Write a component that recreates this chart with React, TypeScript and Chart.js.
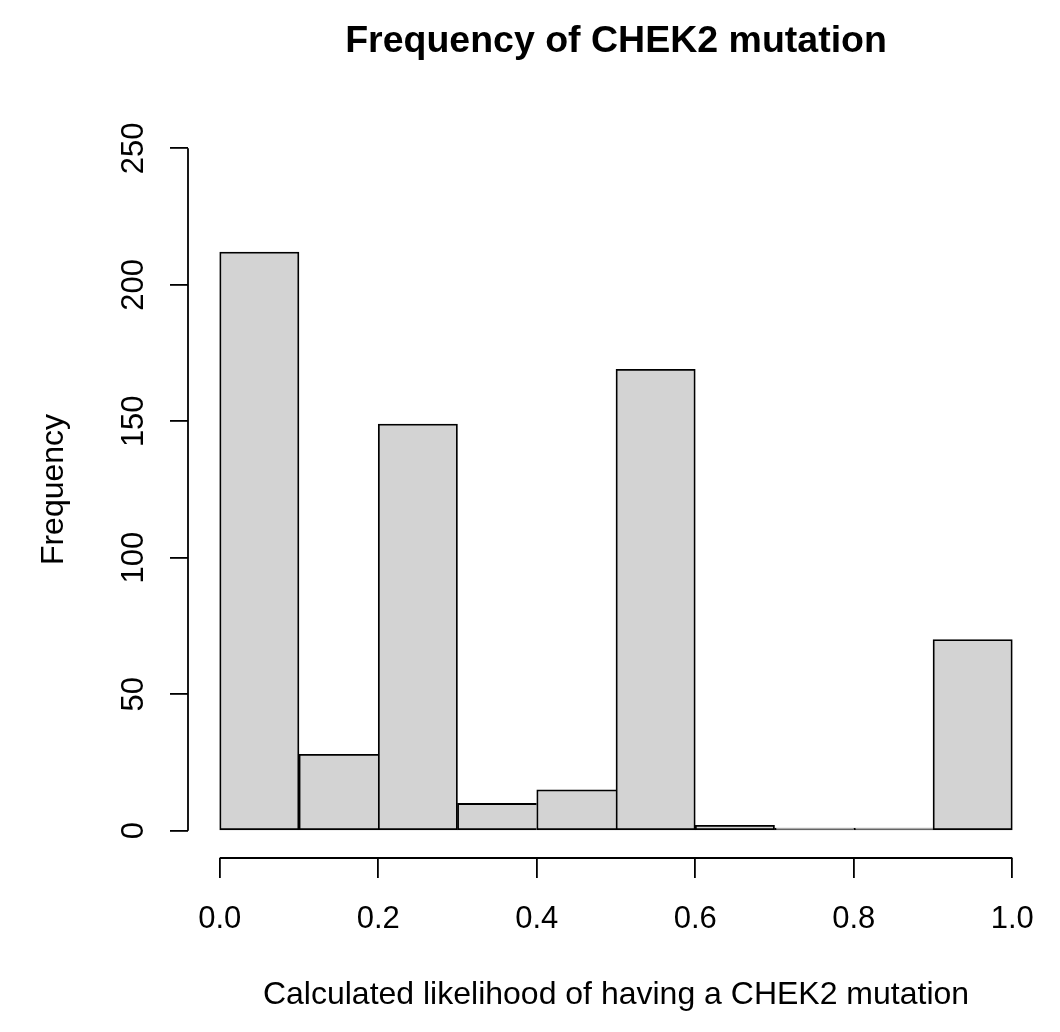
import React, { useEffect, useRef } from 'react';
import { Chart, registerables } from 'chart.js';

Chart.register(...registerables);

// ---- data ----
const binCenters = [0.05, 0.15, 0.25, 0.35, 0.45, 0.55, 0.65, 0.75, 0.85, 0.95];
const counts = [212, 28, 149, 10, 15, 169, 2, 1, 1, 70];
const xTickValues = [0, 0.2, 0.4, 0.6, 0.8, 1.0];
const yTickValues = [0, 50, 100, 150, 200, 250];
const titleText = 'Frequency of CHEK2 mutation';
const xTitle = 'Calculated likelihood of having a CHEK2 mutation';
const yTitle = 'Frequency';

const FONT = '"Liberation Sans", Arial, Helvetica, sans-serif';
const LW = 1.8;

const rAxesPlugin = {
  id: 'rAxes',
  afterDraw(chart: any) {
    const { ctx, chartArea, scales } = chart;
    const x = scales.x;
    const y = scales.y;
    ctx.save();
    ctx.strokeStyle = '#000';
    ctx.lineWidth = LW;
    ctx.beginPath();
    ctx.moveTo(x.getPixelForValue(xTickValues[0]), chartArea.bottom);
    ctx.lineTo(x.getPixelForValue(xTickValues[xTickValues.length - 1]), chartArea.bottom);
    ctx.moveTo(chartArea.left, y.getPixelForValue(yTickValues[0]));
    ctx.lineTo(chartArea.left, y.getPixelForValue(yTickValues[yTickValues.length - 1]));
    ctx.stroke();
    ctx.fillStyle = '#000';
    ctx.font = `31px ${FONT}`;
    ctx.textAlign = 'center';
    ctx.textBaseline = 'middle';
    y.ticks.forEach((t: any) => {
      const py = y.getPixelForValue(t.value);
      ctx.save();
      ctx.translate(chartArea.left - 54, py);
      ctx.rotate(-Math.PI / 2);
      ctx.fillText(String(t.value), 0, 0);
      ctx.restore();
    });
    ctx.restore();
  },
};

export default function App() {
  const ref = useRef<HTMLCanvasElement | null>(null);
  useEffect(() => {
    document.body.style.margin = '0';
    if (!ref.current) return;
    const last = counts.length - 1;
    const chart = new Chart(ref.current, {
      type: 'bar',
      data: {
        datasets: [
          {
            data: binCenters.map((c, i) => ({ x: c, y: counts[i] })),
            backgroundColor: '#D3D3D3',
            borderColor: '#000',
            borderSkipped: false,
            borderWidth: (c: any) => {
              const i = c.dataIndex;
              const needRight = i === last || counts[i + 1] < counts[i];
              return { top: LW, bottom: LW, left: LW, right: needRight ? LW : 0 };
            },
            barPercentage: 1,
            categoryPercentage: 1,
          } as any,
        ],
      },
      options: {
        animation: false,
        responsive: false,
        devicePixelRatio: 1,
        layout: { padding: { left: 0, right: 16, top: 0, bottom: 0 } },
        plugins: {
          legend: { display: false },
          tooltip: { enabled: false },
          title: { display: false },
        },
        scales: {
          x: {
            type: 'linear',
            position: 'bottom',
            min: -0.04,
            max: 1.04,
            offset: false,
            afterBuildTicks: (s: any) => {
              s.ticks = xTickValues.map((v) => ({ value: v }));
            },
            afterFit: (s: any) => {
              s.height = 174;
            },
            border: { display: false },
            grid: {
              offset: false,
              drawOnChartArea: false,
              drawTicks: true,
              tickLength: 20,
              tickColor: '#000',
              tickWidth: LW,
              color: '#000',
              lineWidth: LW,
            },
            ticks: {
              color: '#000',
              font: { family: FONT, size: 31 },
              padding: 23,
              maxRotation: 0,
              minRotation: 0,
              callback: (v: any) => Number(v).toFixed(1),
            },
            title: {
              display: true,
              text: xTitle,
              color: '#000',
              font: { family: FONT, size: 32 },
              padding: { top: 0, bottom: 17.2 },
            },
          },
          x2: {
            type: 'linear',
            position: 'top',
            display: true,
            afterFit: (s: any) => {
              s.height = 121;
            },
            border: { display: false },
            grid: { display: false },
            ticks: { display: false },
            title: {
              display: true,
              text: titleText,
              color: '#000',
              font: { family: FONT, size: 37.5, weight: 'bold' },
              padding: { top: 18.8, bottom: 0 },
            },
          },
          y: {
            type: 'linear',
            position: 'left',
            min: -10,
            max: 260,
            afterBuildTicks: (s: any) => {
              s.ticks = yTickValues.map((v) => ({ value: v }));
            },
            afterFit: (s: any) => {
              s.width = 188;
            },
            border: { display: false },
            grid: {
              drawOnChartArea: false,
              drawTicks: true,
              tickLength: 18,
              tickColor: '#000',
              tickWidth: LW,
              color: '#000',
              lineWidth: LW,
            },
            ticks: { display: false },
            title: {
              display: true,
              text: yTitle,
              color: '#000',
              font: { family: FONT, size: 32 },
              padding: { top: 35, bottom: 0 },
            },
          },
        },
      } as any,
      plugins: [rAxesPlugin],
    });
    return () => chart.destroy();
  }, []);
  return (
    <div style={{ width: 1060, height: 1032, background: '#fff' }}>
      <canvas ref={ref} width={1060} height={1032} style={{ display: 'block' }} />
    </div>
  );
}
